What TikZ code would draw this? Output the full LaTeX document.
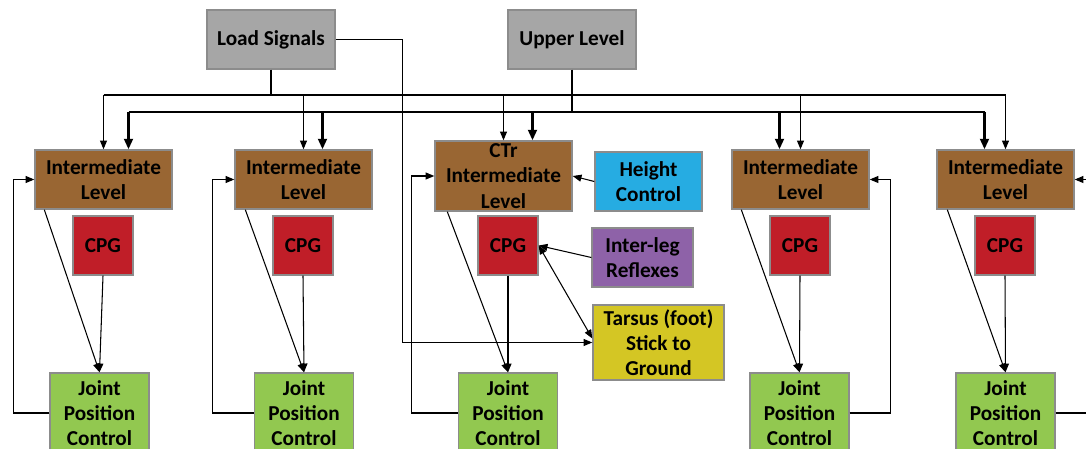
\documentclass[tikz,border=0pt]{standalone}
\usepackage{fontspec}
\setmainfont{Carlito}
\usepackage{xcolor}
\usetikzlibrary{positioning, arrows.meta, calc}

\definecolor{boxgray}{RGB}{166,166,166}
\definecolor{levelbrown}{RGB}{153,102,51}
\definecolor{cpgred}{RGB}{192,30,40}
\definecolor{heightblue}{RGB}{38,172,226}
\definecolor{reflexpurple}{RGB}{142,98,168}
\definecolor{tarsusyellow}{RGB}{212,198,36}
\definecolor{jointgreen}{RGB}{146,200,80}

\begin{document}
\begin{tikzpicture}[
    x=0.02cm, y=-0.02cm,
    >={Triangle[length=5pt,width=4pt]},
    box/.style={
        draw=black!45,
        line width=0.8pt,
        align=center,
        inner sep=1pt,
        font=\fontsize{12.1}{14.3}\selectfont\bfseries
    },
    topbox/.style={box, fill=boxgray, minimum width=2.56cm, minimum height=1.18cm},
    level/.style={box, fill=levelbrown, minimum width=2.74cm, minimum height=1.18cm},
    cpg/.style={box, fill=cpgred, minimum width=1.2cm, minimum height=1.18cm},
    joint/.style={box, fill=jointgreen, minimum width=1.98cm, minimum height=1.6cm},
    arrow/.style={->, line width=0.6pt},
    bus/.style={line width=1.4pt},
    busarrow/.style={->, line width=1.4pt, >={Triangle[length=6pt,width=5pt]}}
]
\useasboundingbox (0,0) rectangle (1086,449);
\clip (0,0) rectangle (1086,449);

% --- top ---
\node[topbox] (load) at (271,39.5) {Load Signals};
\node[topbox] (upper) at (572,39.5) {Upper Level};

% --- intermediate levels ---
\node[level] (int1) at (103.5,179.5) {Intermediate\\Level};
\node[level] (int2) at (303.5,179.5) {Intermediate\\Level};
\node[level, minimum height=1.4cm] (ctr) at (503.5,176) {CTr\\Intermediate\\Level};
\node[level] (int4) at (800.5,179.5) {Intermediate\\Level};
\node[level] (int5) at (1005.5,179.5) {Intermediate\\Level};

% --- CPG ---
\node[cpg] (cpg1) at (103,245.5) {CPG};
\node[cpg] (cpg2) at (303,245.5) {CPG};
\node[cpg] (cpg3) at (508,245.5) {CPG};
\node[cpg] (cpg4) at (800,245.5) {CPG};
\node[cpg] (cpg5) at (1005,245.5) {CPG};

% --- side inputs ---
\node[box, fill=heightblue, minimum width=2.14cm, minimum height=1.18cm] (height) at (648.5,181.5) {Height\\Control};
\node[box, fill=reflexpurple, minimum width=2.02cm, minimum height=1.18cm] (reflex) at (642.5,257.5) {Inter-leg\\Reflexes};
\node[box, fill=tarsusyellow, minimum width=2.62cm, minimum height=1.5cm] (tarsus) at (658.5,342.5) {Tarsus (foot)\\Stick to\\Ground};

% --- joint position control ---
\node[joint] (jpc1) at (99.5,413) {Joint\\Position\\Control};
\node[joint] (jpc2) at (304,413) {Joint\\Position\\Control};
\node[joint] (jpc3) at (508,413) {Joint\\Position\\Control};
\node[joint] (jpc4) at (799.5,413) {Joint\\Position\\Control};
\node[joint] (jpc5) at (1005.5,413) {Joint\\Position\\Control};

% --- load signals bus ---
\coordinate (lj) at (271,95);
\draw[line width=0.6pt] (load.south) -- (lj);
\draw[line width=0.6pt] (int1.north |- lj) -- (int5.north |- lj);
\draw[arrow] (int1.north |- lj) -- (int1.north);
\draw[arrow] (int2.north |- lj) -- (int2.north);
\draw[arrow] (ctr.north |- lj) -- (ctr.north);
\draw[arrow] (int4.north |- lj) -- (int4.north);
\draw[arrow] (int5.north |- lj) -- (int5.north);
\draw[arrow] (load.east) -- ++(67,0) |- (tarsus.west);

% --- upper level bus ---
\coordinate (uj) at (572,112);
\path ($(int1.north)+(25,0)$) coordinate (u1) ($(int2.north)+(19,0)$) coordinate (u2)
      ($(ctr.north)+(29,0)$) coordinate (u3) ($(int4.north)+(-21,0)$) coordinate (u4)
      ($(int5.north)+(-21,0)$) coordinate (u5);
\draw[bus] (upper.south) -- (uj);
\draw[bus] (u1 |- uj) -- (u5 |- uj);
\draw[busarrow] (u1 |- uj) -- (u1);
\draw[busarrow] (u2 |- uj) -- (u2);
\draw[busarrow] (u3 |- uj) -- (u3);
\draw[busarrow] (u4 |- uj) -- (u4);
\draw[busarrow] (u5 |- uj) -- (u5);

% --- legs ---
\draw[arrow] ([xshift=0.2cm]int1.south west) -- (jpc1.north);
\draw[arrow] (cpg1.south) -- (jpc1.north);
\draw[arrow] (jpc1.west) -- ++(-36,0) |- (int1.west);

\draw[arrow] ([xshift=0.22cm]int2.south west) -- (jpc2.north);
\draw[arrow] (cpg2.south) -- (jpc2.north);
\draw[arrow] (jpc2.west) -- ++(-41,0) |- (int2.west);

\draw[arrow] ([xshift=0.26cm]ctr.south west) -- (jpc3.north);
\draw[arrow] (cpg3.south) -- (jpc3.north);
\draw[arrow] (jpc3.west) -- ++(-46,0) |- (ctr.west);

\draw[arrow] ([xshift=0.2cm]int4.south west) -- (jpc4.north);
\draw[arrow] (cpg4.south) -- (jpc4.north);
\draw[arrow] (jpc4.east) -- ++(41,0) |- (int4.east);

\draw[arrow] ([xshift=0.22cm]int5.south west) -- (jpc5.north);
\draw[arrow] (cpg5.south) -- (jpc5.north);
\draw[arrow] (jpc5.east) -- ++(40,0) |- (int5.east);

% --- CTr inputs ---
\draw[arrow] (height.west) -- (ctr.east);
\draw[arrow] (reflex.west) -- (cpg3.east);
\draw[<->, line width=0.6pt] (cpg3.east) -- ([yshift=0.08cm]tarsus.west);

\end{tikzpicture}
\end{document}
